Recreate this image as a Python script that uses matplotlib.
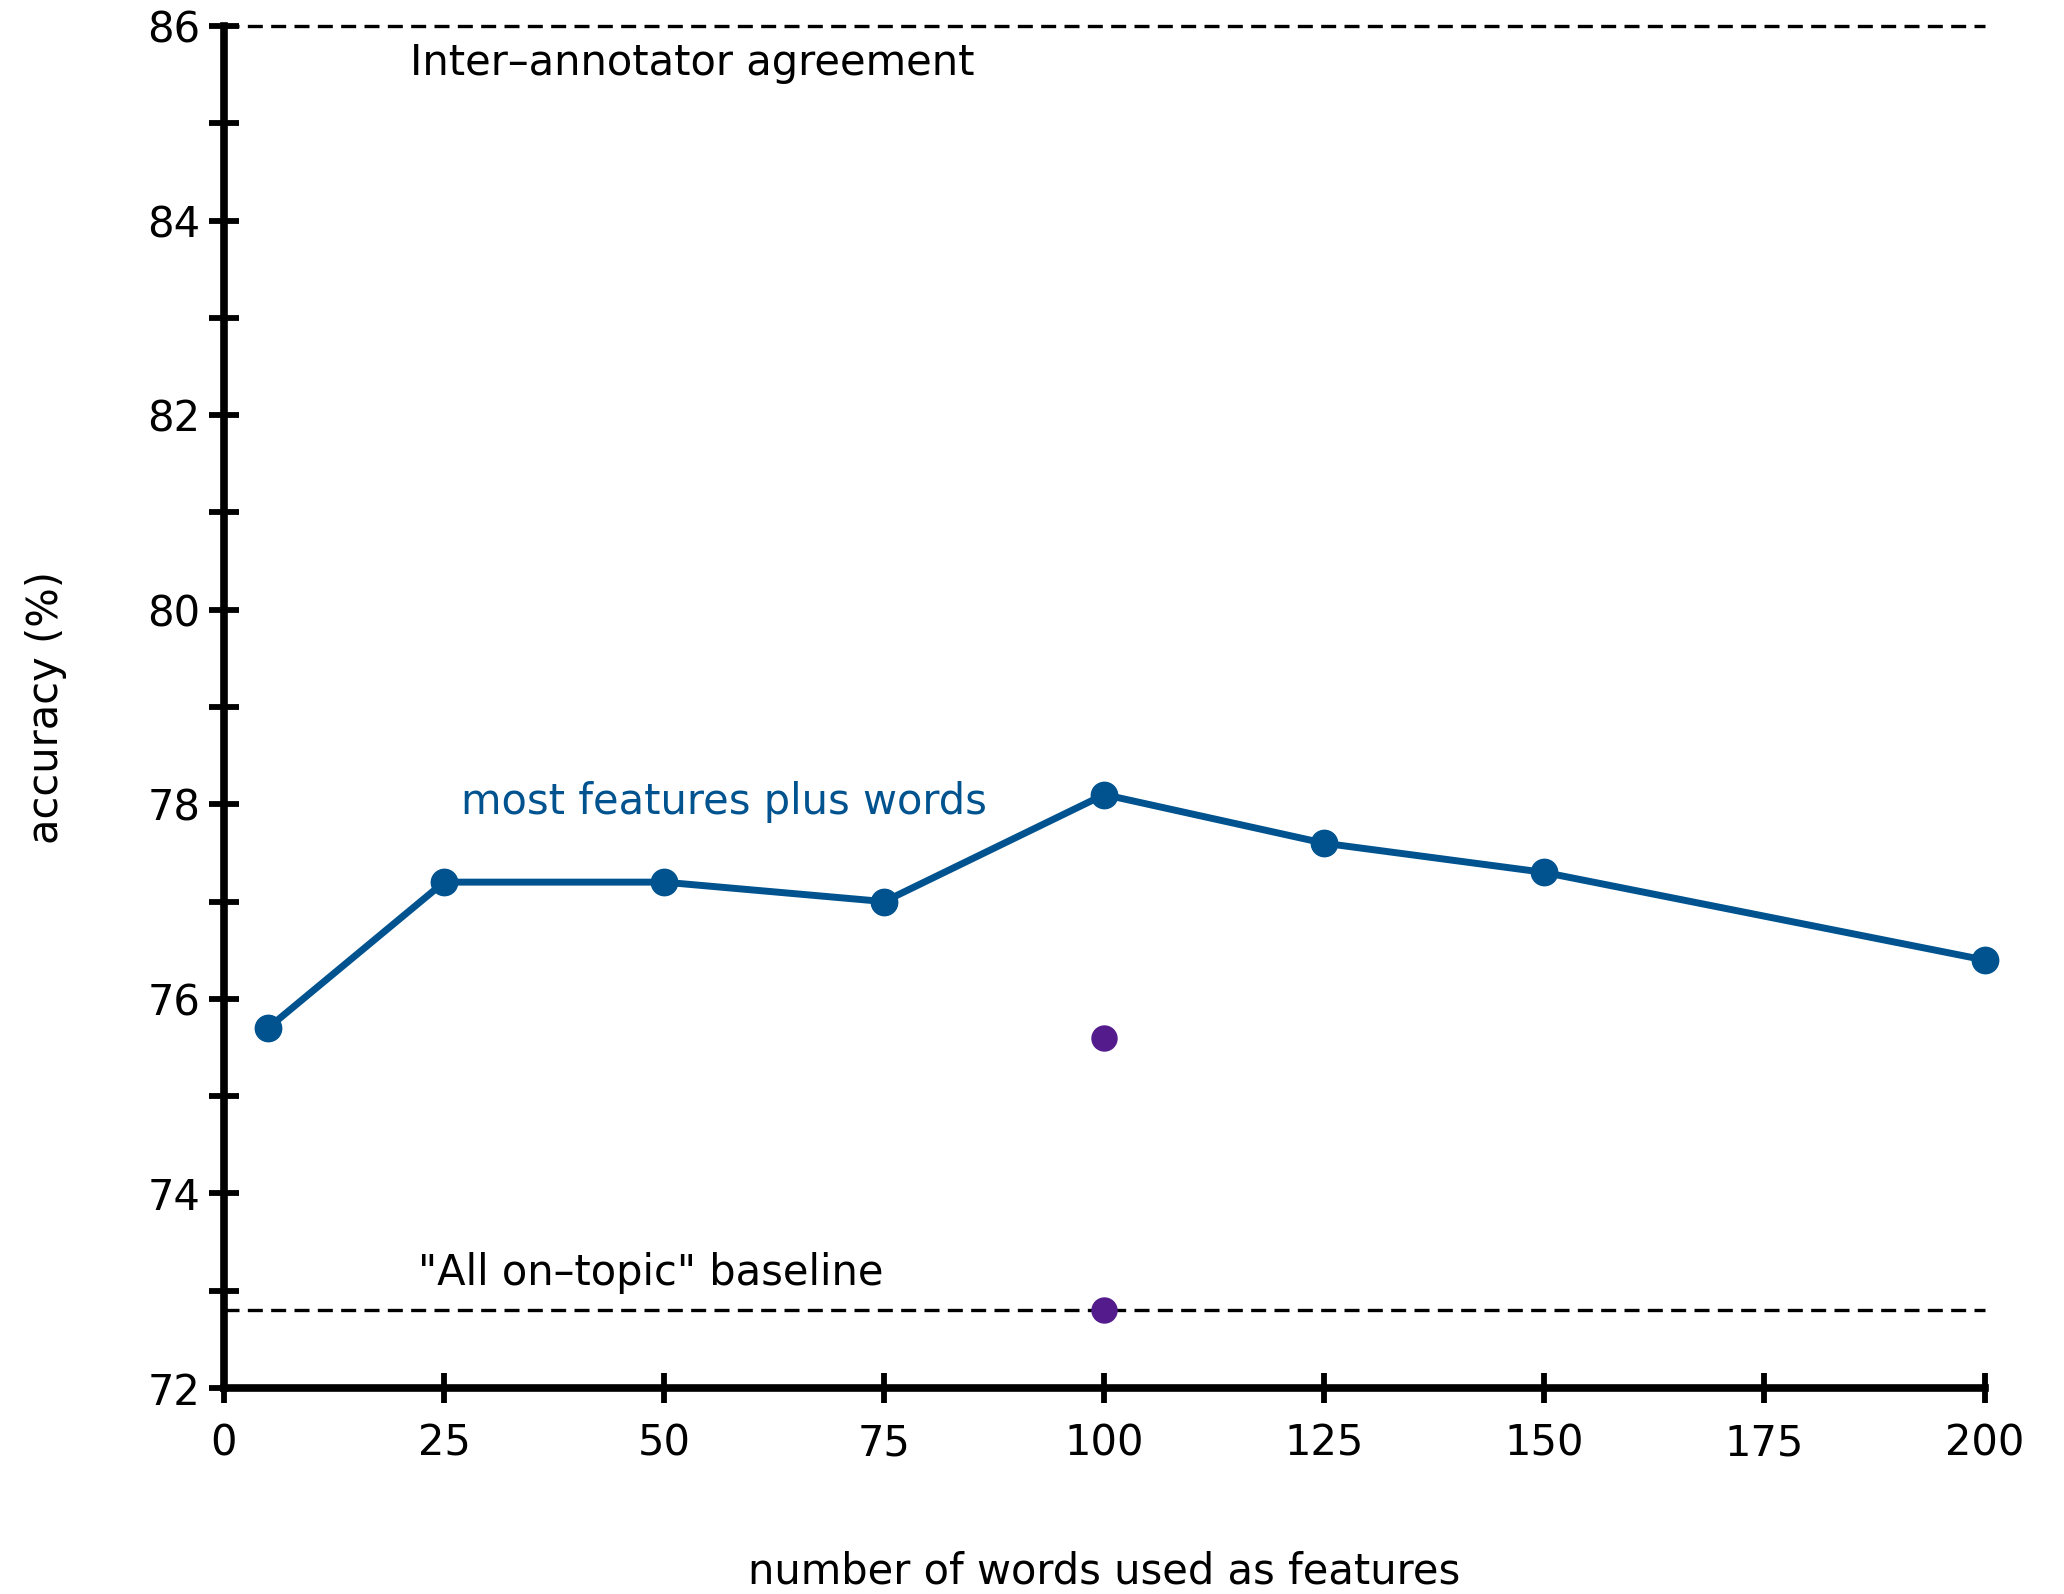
import matplotlib.pyplot as plt
from matplotlib.ticker import MultipleLocator

plt.rcParams['font.family'] = ['DejaVu Sans']

# data
words = [5, 25, 50, 75, 100, 125, 150, 200]
accuracy = [75.7, 77.2, 77.2, 77.0, 78.1, 77.6, 77.3, 76.4]
extra_x = [100, 100]
extra_y = [75.6, 72.8]
agreement = 86.0
baseline = 72.8
x_ticks = [0, 25, 50, 75, 100, 125, 150, 175, 200]
y_ticks = [72, 74, 76, 78, 80, 82, 84, 86]

blue = '#00538f'
purple = '#541b8c'

fig = plt.figure(figsize=(20.64, 15.94), dpi=100)
ax = fig.add_axes([0.1085, 0.1292, 0.853, 0.8545])

ax.hlines([agreement, baseline], 0, 200, colors='black', linestyles=(0, (4.5, 2.5)),
          linewidth=2.4, clip_on=False, zorder=1)
ax.plot(words, accuracy, color=blue, linewidth=5, marker='o', markersize=19,
        clip_on=False, zorder=3)
ax.plot(extra_x, extra_y, linestyle='none', color=purple, marker='o',
        markersize=18, clip_on=False, zorder=4)

ax.text(21.1, 85.62, 'Inter\u2013annotator agreement', fontsize=30, va='center', ha='left')
ax.text(26.9, 78.02, 'most features plus words', fontsize=30, va='center', ha='left', color=blue)
ax.text(22.1, 73.18, '"All on\u2013topic" baseline', fontsize=30, va='center', ha='left')

ax.set_xlim(0, 200)
ax.set_ylim(72, 86)
ax.set_xticks(x_ticks)
ax.set_yticks(y_ticks)
ax.yaxis.set_minor_locator(MultipleLocator(1))

for s in ['top', 'right']:
    ax.spines[s].set_visible(False)
for s in ['left', 'bottom']:
    ax.spines[s].set_linewidth(5.5)

ax.tick_params(which='both', direction='inout', length=22, width=4.2)
ax.tick_params(axis='x', labelsize=30, pad=14)
ax.tick_params(axis='y', labelsize=30, pad=6)

ax.set_xlabel('number of words used as features', fontsize=30, labelpad=62)
ax.set_ylabel('accuracy (%)', fontsize=30, labelpad=58)

fig.savefig('out.png', dpi=100)
